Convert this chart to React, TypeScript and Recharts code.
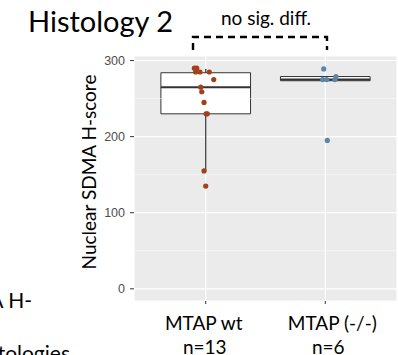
import React from 'react';
import {
  ComposedChart,
  Scatter,
  XAxis,
  YAxis,
  CartesianGrid,
  ReferenceArea,
  ReferenceLine,
} from 'recharts';

// ---- data ----
const categories = ['MTAP wt', 'MTAP (-/-)'];
const counts = ['n=13', 'n=6'];
const categoryX = [1, 2];

// jittered positions of individual samples
const wtX = [0.905, 0.925, 0.916, 0.952, 1.03, 1.067, 0.958, 0.967, 0.986, 1.003, 1.013, 0.986, 1.0];
const wtY = [290, 290, 285, 285, 285, 275, 265, 259, 245, 230, 230, 155, 135];
const delX = [1.987, 1.978, 2.012, 2.081, 2.089, 2.017];
const delY = [289, 275, 275, 275, 279, 195];

// box statistics per group
const boxLower = [155, 273.5];
const boxQ1 = [230, 273.5];
const boxMedian = [265, 275];
const boxQ3 = [284, 279];
const boxUpper = [289, 279];

const yTicks = [0, 100, 200, 300];
const yMinor = [50, 150, 250];

const title = 'Histology 2';
const yLabel = 'Nuclear SDMA H-score';
const sigLabel = 'no sig. diff.';

const wtData = wtX.map((x, i) => ({ x, y: wtY[i] }));
const delData = delX.map((x, i) => ({ x, y: delY[i] }));

const BOX_HALF = 0.375;
const FONT = 'Lato, "Open Sans", sans-serif';
const labelShift = [-2, 7];
const countShift = [-1, 3];

const XTick = (props: any) => {
  const { x, y, payload } = props;
  const idx = categoryX.indexOf(payload.value);
  return (
    <g>
      <text x={x + labelShift[idx]} y={y + 24} textAnchor="middle" fontFamily={FONT} fontSize={19} fill="#000">
        {categories[idx]}
      </text>
      <text x={x + countShift[idx]} y={y + 47.5} textAnchor="middle" fontFamily={FONT} fontSize={19} fill="#000">
        {counts[idx]}
      </text>
    </g>
  );
};

export default function App() {
  return (
    <div style={{ position: 'absolute', left: 0, top: 0, width: 398, height: 355, background: '#fff', overflow: 'hidden' }}>
      <ComposedChart
        width={398}
        height={355}
        margin={{ top: 56, right: 1, bottom: 0, left: 0 }}
      >
        <CartesianGrid fill="#EBEBEB" stroke="#FFFFFF" strokeWidth={1.1} />
        {yMinor.map((v) => (
          <ReferenceLine key={'m' + v} y={v} stroke="#FFFFFF" strokeWidth={0.5} />
        ))}
        <XAxis
          type="number"
          dataKey="x"
          domain={[0.4, 2.6]}
          ticks={categoryX}
          allowDataOverflow
          axisLine={false}
          tickLine={{ stroke: '#333', strokeWidth: 1 }}
          tickSize={3}
          height={54}
          tick={<XTick />}
          interval={0}
        />
        <YAxis
          type="number"
          dataKey="y"
          domain={[-16, 306]}
          ticks={yTicks}
          allowDataOverflow
          axisLine={false}
          tickLine={{ stroke: '#333', strokeWidth: 1 }}
          tickSize={4}
          tickMargin={5}
          width={134}
          tick={{ fill: '#4D4D4D', fontSize: 12.5, fontFamily: '"Liberation Sans", Arial, sans-serif' }}
          interval={0}
        />
        {categoryX.map((cx, i) => (
          <ReferenceLine
            key={'wl' + i}
            segment={[{ x: cx, y: boxLower[i] }, { x: cx, y: boxQ1[i] }]}
            stroke="#333"
            strokeWidth={1.2}
          />
        ))}
        {categoryX.map((cx, i) => (
          <ReferenceLine
            key={'wu' + i}
            segment={[{ x: cx, y: boxQ3[i] }, { x: cx, y: boxUpper[i] }]}
            stroke="#333"
            strokeWidth={1.2}
          />
        ))}
        {categoryX.map((cx, i) => (
          <ReferenceArea
            key={'b' + i}
            x1={cx - BOX_HALF}
            x2={cx + BOX_HALF}
            y1={boxQ1[i]}
            y2={boxQ3[i]}
            fill="#FFFFFF"
            fillOpacity={1}
            stroke="#333"
            strokeWidth={1}
          />
        ))}
        {categoryX.map((cx, i) => (
          <ReferenceLine
            key={'md' + i}
            segment={[{ x: cx - BOX_HALF, y: boxMedian[i] }, { x: cx + BOX_HALF, y: boxMedian[i] }]}
            stroke="#333"
            strokeWidth={2}
          />
        ))}
        <Scatter data={wtData} fill="#A3401C" isAnimationActive={false} shape={(p: any) => <circle cx={p.cx} cy={p.cy} r={2.6} fill="#A3401C" />} />
        <Scatter data={delData} fill="#5B86A8" isAnimationActive={false} shape={(p: any) => <circle cx={p.cx} cy={p.cy} r={2.6} fill="#5B86A8" />} />
      </ComposedChart>
      <svg width={398} height={355} style={{ position: 'absolute', left: 0, top: 0, pointerEvents: 'none' }}>
        <text x={28} y={32} fontFamily={FONT} fontSize={29} fill="#000">{title}</text>
        <text x={266} y={25} textAnchor="middle" fontFamily={FONT} fontSize={19} fill="#000">{sigLabel}</text>
        <path d="M193,50 L193,37 L327,37 L327,50" fill="none" stroke="#000" strokeWidth={2.4} strokeDasharray="7,5" />
        <text
          x={88}
          y={172}
          textAnchor="middle"
          dominantBaseline="central"
          transform="rotate(-90 88 172)"
          fontFamily={FONT}
          fontSize={19}
          fill="#000"
        >
          {yLabel}
        </text>
        <text x={32} y={308} textAnchor="end" fontFamily={FONT} fontSize={21} fill="#000">A H-</text>
        <text x={70} y={361} textAnchor="end" fontFamily={FONT} fontSize={21} fill="#000">stologies</text>
      </svg>
    </div>
  );
}
